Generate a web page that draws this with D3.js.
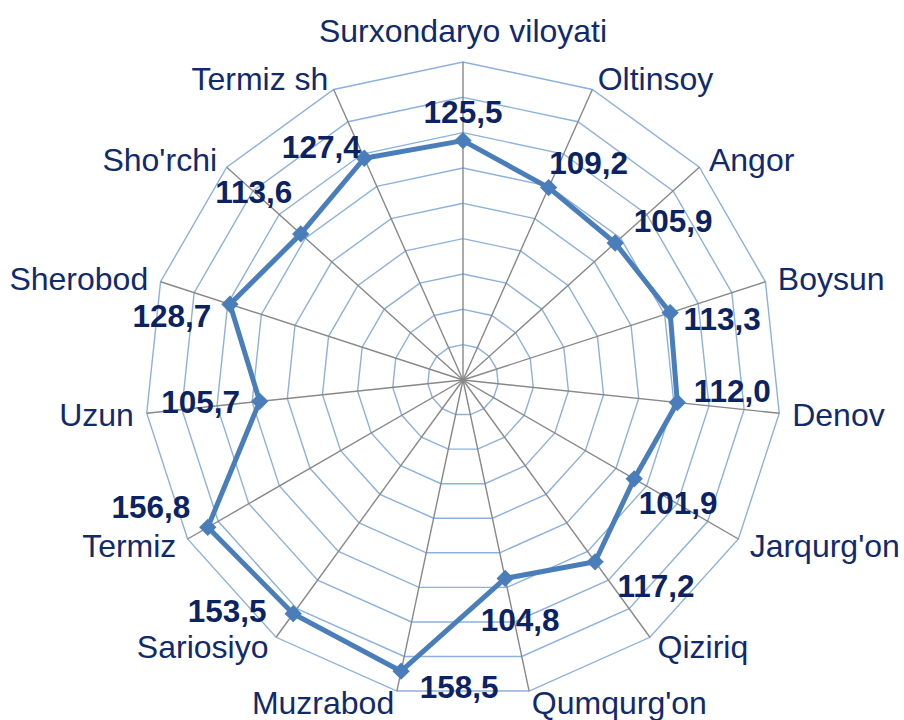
<!DOCTYPE html>
<html>
<head>
<meta charset="utf-8">
<script src="https://cdn.jsdelivr.net/npm/d3@7"></script>
<style>
  body { margin: 0; background: #fff; }
  svg { font-family: "Liberation Sans", Arial, sans-serif; }
</style>
</head>
<body>
<div class="canvas"></div>
<script>
/////////////////////////////////
//** DATA **//

const categories = [
    'Surxondaryo viloyati', 'Oltinsoy', 'Angor', 'Boysun', 'Denov',
    "Jarqurg'on", 'Qiziriq', "Qumqurg'on", 'Muzrabod', 'Sariosiyo',
    'Termiz', 'Uzun', 'Sherobod', "Sho'rchi", 'Termiz sh'
];
const values = [
    125.5, 109.2, 105.9, 113.3, 112.0,
    101.9, 117.2, 104.8, 158.5, 153.5,
    156.8, 105.7, 128.7, 113.6, 127.4
];
// radial axis (rings every 20)
const axisMin = -10;
const axisMax = 170;
const ringStep = 20;

// hand-placed label nudges (dx, dy) like the original chart
const labelNudge = [
    [0, -29], [40, -25], [58, -22], [52, 6], [55, -12],
    [44, 24], [61, 24], [15, 41], [58, 15], [-66, -3],
    [-57, -21], [-59, 0], [-58, 11], [-47, -42], [-43, -12]
];

/////////////////////////////////
//** DIMENSIONS **//

const dims = { width: 904, height: 720, radius: 318 };
const cent = { x: 463, y: 380 };

const svg = d3.select('.canvas')
    .append('svg')
    .attr('width', dims.width)
    .attr('height', dims.height);

const graph = svg.append('g')
    .attr('transform', `translate(${cent.x}, ${cent.y})`);

// scales
const r = d3.scaleLinear().domain([axisMin, axisMax]).range([0, dims.radius]);
const angle = d3.scalePoint()
    .domain(d3.range(categories.length + 1))
    .range([0, 2 * Math.PI]);

const pt = (i, v) => {
    const a = angle(i);
    return [Math.sin(a) * r(v), -Math.cos(a) * r(v)];
};

/////////////////////////////////
//** GRID **//

const rings = d3.range(axisMin + ringStep, axisMax + 0.001, ringStep);

graph.selectAll('.ring')
    .data(rings)
    .enter()
    .append('polygon')
    .attr('class', 'ring')
    .attr('points', v => categories.map((c, i) => pt(i, v).join(',')).join(' '))
    .attr('fill', 'none')
    .attr('stroke', '#8db1de')
    .attr('stroke-width', 1.4);

graph.selectAll('.spoke')
    .data(categories)
    .enter()
    .append('line')
    .attr('class', 'spoke')
    .attr('x1', 0).attr('y1', 0)
    .attr('x2', (d, i) => pt(i, axisMax)[0])
    .attr('y2', (d, i) => pt(i, axisMax)[1])
    .attr('stroke', '#888')
    .attr('stroke-width', 1.4);

/////////////////////////////////
//** SERIES **//

const line = d3.line()
    .x((d, i) => pt(i, d)[0])
    .y((d, i) => pt(i, d)[1])
    .curve(d3.curveLinearClosed);

graph.append('path')
    .datum(values)
    .attr('d', line)
    .attr('fill', 'none')
    .attr('stroke', '#4a7ebb')
    .attr('stroke-width', 5)
    .attr('stroke-linejoin', 'round');

const diamond = d3.symbol().type(d3.symbolSquare).size(150);

graph.selectAll('.marker')
    .data(values)
    .enter()
    .append('path')
    .attr('class', 'marker')
    .attr('d', diamond)
    .attr('transform', (d, i) => `translate(${pt(i, d)}) rotate(45)`)
    .attr('fill', '#4a7ebb');

/////////////////////////////////
//** LABELS **//

// data labels
graph.selectAll('.val')
    .data(values)
    .enter()
    .append('text')
    .attr('class', 'val')
    .attr('x', (d, i) => pt(i, d)[0] + labelNudge[i][0])
    .attr('y', (d, i) => pt(i, d)[1] + labelNudge[i][1])
    .attr('dy', '0.36em')
    .attr('text-anchor', 'middle')
    .attr('font-size', 31.5)
    .attr('font-weight', 'bold')
    .attr('fill', '#0b2362')
    .text(d => d3.format('.1f')(d).replace('.', ','));

// category labels
graph.selectAll('.cat')
    .data(categories)
    .enter()
    .append('text')
    .attr('class', 'cat')
    .each(function (d, i) {
        const a = angle(i);
        const s = Math.sin(a);
        const [x, y] = pt(i, axisMax);
        const top = Math.abs(s) < 0.1;
        d3.select(this)
            .attr('x', x + s * 13)
            .attr('y', top ? y - 32 : y - Math.cos(a) * 12)
            .attr('text-anchor', top ? 'middle' : (s > 0 ? 'start' : 'end'));
    })
    .attr('dy', '0.36em')
    .attr('font-size', 32)
    .attr('fill', '#112a6b')
    .text(d => d);
</script>
</body>
</html>
